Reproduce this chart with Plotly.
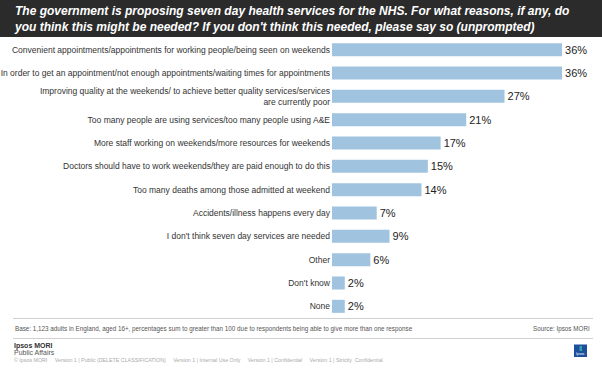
import plotly.graph_objects as go

categories = [
    "Convenient appointments/appointments for working people/being seen on weekends",
    "In order to get an appointment/not enough appointments/waiting times for appointments",
    "Improving quality at the weekends/ to achieve better quality services/services<br>are currently poor",
    "Too many people are using services/too many people using A&E",
    "More staff working on weekends/more resources for weekends",
    "Doctors should have to work weekends/they are paid enough to do this",
    "Too many deaths among those admitted at weekend",
    "Accidents/illness happens every day",
    "I don't think seven day services are needed",
    "Other",
    "Don't know",
    "None",
]
values = [36, 36, 27, 21, 17, 15, 14, 7, 9, 6, 2, 2]

title_text = ("The government is proposing seven day health services for the NHS. For what reasons, if any, do<br>"
              "you think this might be needed? If you don't think this needed, please say so (unprompted)")
base_text = "Base: 1,123 adults in England, aged 16+, percentages sum to greater than 100 due to respondents being able to give more than one response"
source_text = "Source: Ipsos MORI"
footer_text = ("© Ipsos MORI     Version 1 | Public (DELETE CLASSIFICATION)     Version 1 | Internal Use Only     "
               "Version 1 | Confidential     Version 1 | Strictly  Confidential")

W, H = 602, 368
L, R, T, B = 332, 14, 38, 50
PW, PH = W - L - R, H - T - B


def px(x):
    return (x - L) / PW


def py(y):
    return 1 - (y - T) / PH


fig = go.Figure(go.Bar(
    x=values, y=categories, orientation="h",
    marker=dict(color="#a0c4e0", line=dict(width=0)),
    texttemplate="%{x}%", textposition="outside", cliponaxis=False,
    textfont=dict(family="Arial, Liberation Sans", size=11, color="#222222"),
    hoverinfo="skip",
))

shapes = [
    dict(type="rect", xref="paper", yref="paper", x0=px(0), x1=px(W), y0=py(0), y1=py(37),
         fillcolor="#2b2b2b", line=dict(width=0), layer="below"),
    dict(type="line", xref="paper", yref="paper", x0=px(13), x1=px(593), y0=py(318.5), y1=py(318.5),
         line=dict(color="#d0d0d0", width=1)),
    dict(type="line", xref="paper", yref="paper", x0=px(13), x1=px(593), y0=py(338.5), y1=py(338.5),
         line=dict(color="#d0d0d0", width=1)),
    dict(type="rect", xref="paper", yref="paper", x0=px(574), x1=px(587), y0=py(344.5), y1=py(357),
         fillcolor="#1d4f9e", line=dict(width=0)),
    dict(type="rect", xref="paper", yref="paper", x0=px(579.5), x1=px(582), y0=py(346), y1=py(351),
         fillcolor="#2fa7a0", line=dict(width=0)),
]

annotations = [
    dict(text=title_text, xref="paper", yref="paper", x=px(12), y=py(18.5), xanchor="left", yanchor="middle",
         showarrow=False, align="left",
         font=dict(family="Arial, Liberation Sans", size=12, color="white", weight="bold", style="italic")),
    dict(text=base_text, xref="paper", yref="paper", x=px(13), y=py(328.5), xanchor="left", yanchor="middle",
         showarrow=False, font=dict(family="Arial, Liberation Sans", size=6.3, color="#555555")),
    dict(text=source_text, xref="paper", yref="paper", x=px(592), y=py(328.5), xanchor="right", yanchor="middle",
         showarrow=False, font=dict(family="Arial, Liberation Sans", size=6.3, color="#555555")),
    dict(text="<b>Ipsos MORI</b>", xref="paper", yref="paper", x=px(12), y=py(345.5), xanchor="left",
         yanchor="middle", showarrow=False, font=dict(family="Arial, Liberation Sans", size=7, color="#333333")),
    dict(text="Public Affairs", xref="paper", yref="paper", x=px(12), y=py(352.5), xanchor="left",
         yanchor="middle", showarrow=False, font=dict(family="Arial, Liberation Sans", size=7, color="#555555")),
    dict(text=footer_text, xref="paper", yref="paper", x=px(12), y=py(360), xanchor="left",
         yanchor="middle", showarrow=False, font=dict(family="Arial, Liberation Sans", size=5.3, color="#aaaaaa")),
    dict(text="Ipsos", xref="paper", yref="paper", x=px(580.5), y=py(353.5), xanchor="center",
         yanchor="middle", showarrow=False, font=dict(family="Arial, Liberation Sans", size=3.5, color="white")),
]

fig.update_layout(
    width=W, height=H,
    margin=dict(l=L, r=R, t=T, b=B, pad=0, autoexpand=False),
    paper_bgcolor="white", plot_bgcolor="white",
    bargap=0.44,
    showlegend=False,
    xaxis=dict(range=[0, PW / 6.39], visible=False, fixedrange=True, automargin=False),
    yaxis=dict(autorange="reversed", showgrid=False, showline=False, ticks="", zeroline=False,
               automargin=False, ticklabelstandoff=1,
               tickfont=dict(family="Arial, Liberation Sans", size=8.5, color="#333333")),
    shapes=shapes,
    annotations=annotations,
    font=dict(family="Arial, Liberation Sans"),
)

fig.write_html("out.html", post_script="document.body.style.margin='0px';",
               config={"displayModeBar": False})
